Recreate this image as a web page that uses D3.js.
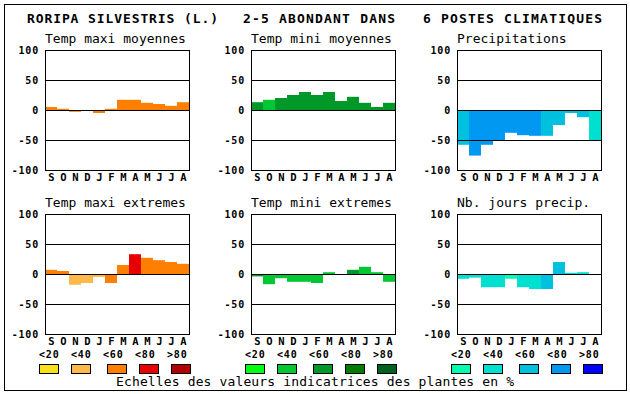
<!DOCTYPE html>
<html lang="fr">
<head>
<meta charset="UTF-8">
<title>Roripa silvestris</title>
<script src="https://d3js.org/d3.v7.min.js"></script>
<style>
  body { margin: 0; background: #fff; }
  svg text { font-family: "DejaVu Sans Mono", "Liberation Mono", monospace; fill: #000; }
  .title { font-size: 13px; font-weight: bold; }
  .sub { font-size: 13px; }
  .tick { font-size: 10px; font-weight: bold; letter-spacing: 0.8px; }
  .month { font-size: 10.5px; font-weight: bold; }
</style>
</head>
<body>
<svg id="chart" width="630" height="394"></svg>
<script>
// months, ticks, legend labels
const months = ["S","O","N","D","J","F","M","A","M","J","J","A"];
const yTicks = [100, 50, 0, -50, -100];
const legendLabels = ["<20","<40","<60","<80",">80"];

// colour scales (index = class)
const orangeScale = ["#f8e01a","#ffb84a","#ff8000","#e80000","#b00000"];
const greenScale  = ["#00ff10","#00c832","#009828","#007c00","#006020"];
const blueScale   = ["#00ffb0","#00e0d0","#00c0e0","#0098f0","#0000ff"];

// series values
const tmaxMoy   = [5, 2, -3, 0, -5, 2, 17, 17, 12, 10, 7, 13];
const tmaxMoyC  = [2, 2, 2, 2, 2, 2, 2, 2, 2, 2, 2, 2];
const tminMoy   = [13, 17, 20, 25, 30, 25, 30, 15, 22, 12, 5, 12];
const tminMoyC  = [2, 1, 2, 2, 2, 2, 2, 2, 2, 2, 2, 2];
const precip    = [-58, -76, -58, -50, -38, -42, -43, -43, -25, -5, -12, -50];
const precipC   = [2, 3, 3, 3, 3, 3, 3, 2, 2, 2, 2, 1];
const tmaxExt   = [7, 5, -18, -15, -5, -15, 15, 33, 27, 23, 20, 17];
const tmaxExtC  = [2, 2, 1, 1, 1, 2, 2, 3, 2, 2, 2, 2];
const tminExt   = [-4, -17, -7, -13, -13, -15, 3, 0, 7, 12, 3, -13];
const tminExtC  = [2, 1, 1, 1, 1, 1, 1, 1, 2, 1, 1, 1];
const nbJours   = [-8, -6, -22, -22, -8, -22, -25, -25, 20, 2, 3, 0];
const nbJoursC  = [1, 1, 1, 1, 0, 1, 1, 2, 2, 1, 1, 1];

const panels = [
  {title: "Temp maxi moyennes",  values: tmaxMoy, cls: tmaxMoyC, scale: orangeScale, col: 0, row: 0},
  {title: "Temp mini moyennes",  values: tminMoy, cls: tminMoyC, scale: greenScale,  col: 1, row: 0},
  {title: "Precipitations",      values: precip,  cls: precipC,  scale: blueScale,   col: 2, row: 0},
  {title: "Temp maxi extremes",  values: tmaxExt, cls: tmaxExtC, scale: orangeScale, col: 0, row: 1},
  {title: "Temp mini extremes",  values: tminExt, cls: tminExtC, scale: greenScale,  col: 1, row: 1},
  {title: "Nb. jours precip.",   values: nbJours, cls: nbJoursC, scale: blueScale,   col: 2, row: 1}
];

const svg = d3.select("#chart");
const colX = [45, 251, 457];
const rowY = [50, 214];
const pw = 144, ph = 120;

// outer frame
svg.append("rect")
  .attr("x", 4.5).attr("y", 4.5).attr("width", 622).attr("height", 386)
  .attr("fill", "none").attr("stroke", "#000");

// main title (three pieces)
const titleParts = [
  {t: "RORIPA SILVESTRIS (L.)", x: 27, w: 191},
  {t: "2-5 ABONDANT DANS", x: 243, w: 152},
  {t: "6 POSTES CLIMATIQUES", x: 423, w: 179}
];
titleParts.forEach(p => {
  svg.append("text").attr("class", "title")
    .attr("x", p.x).attr("y", 23)
    .attr("textLength", p.w).attr("lengthAdjust", "spacing")
    .text(p.t);
});

panels.forEach(p => {
  const x0 = colX[p.col], y0 = rowY[p.row];
  const g = svg.append("g").attr("transform", `translate(${x0},${y0})`);

  const x = d3.scaleBand().domain(d3.range(12)).range([0, pw]).padding(0);
  const y = d3.scaleLinear().domain([-100, 100]).range([ph, 0]);

  // bars
  g.selectAll("rect.bar")
    .data(p.values)
    .enter().append("rect")
    .attr("class", "bar")
    .attr("x", (d, i) => x(i))
    .attr("width", x.bandwidth())
    .attr("y", d => y(Math.max(0, d)))
    .attr("height", d => Math.abs(y(d) - y(0)))
    .attr("fill", (d, i) => p.scale[p.cls[i]]);

  // grid lines at 50, 0, -50 (drawn over the bars)
  g.selectAll("line.grid")
    .data([50, 0, -50])
    .enter().append("line")
    .attr("x1", 0).attr("x2", pw)
    .attr("y1", d => Math.round(y(d)) + 0.5)
    .attr("y2", d => Math.round(y(d)) + 0.5)
    .attr("stroke", "#000").attr("stroke-width", 1);

  // plot frame
  g.append("rect")
    .attr("x", 0.5).attr("y", 0.5).attr("width", pw).attr("height", ph)
    .attr("fill", "none").attr("stroke", "#000");

  // y tick labels
  g.selectAll("text.tick")
    .data(yTicks)
    .enter().append("text")
    .attr("class", "tick")
    .attr("x", -6).attr("y", d => y(d) + 4)
    .attr("text-anchor", "end")
    .text(d => d);

  // month labels
  g.selectAll("text.month")
    .data(months)
    .enter().append("text")
    .attr("class", "month")
    .attr("x", (d, i) => x(i) + x.bandwidth() / 2 + 0.5)
    .attr("y", ph + 11)
    .attr("text-anchor", "middle")
    .text(d => d);

  // panel title
  svg.append("text").attr("class", "sub")
    .attr("x", x0).attr("y", y0 - 7)
    .text(p.title);

  // legend for bottom row
  if (p.row === 1) {
    const lx = x0 - 6;
    const swatchOff = [0, 32, 68, 100, 132];
    legendLabels.forEach((lab, i) => {
      svg.append("text").attr("class", "tick")
        .attr("x", lx + i * 32).attr("y", 357.5)
        .text(lab);
      svg.append("rect")
        .attr("x", lx + swatchOff[i] + 0.5).attr("y", 364.5)
        .attr("width", 19).attr("height", 9)
        .attr("fill", p.scale[i]).attr("stroke", "#000");
    });
  }
});

// scale caption
svg.append("text").attr("class", "sub")
  .attr("x", 116).attr("y", 386)
  .attr("textLength", 398).attr("lengthAdjust", "spacing")
  .text("Echelles des valeurs indicatrices des plantes en %");
</script>
</body>
</html>
